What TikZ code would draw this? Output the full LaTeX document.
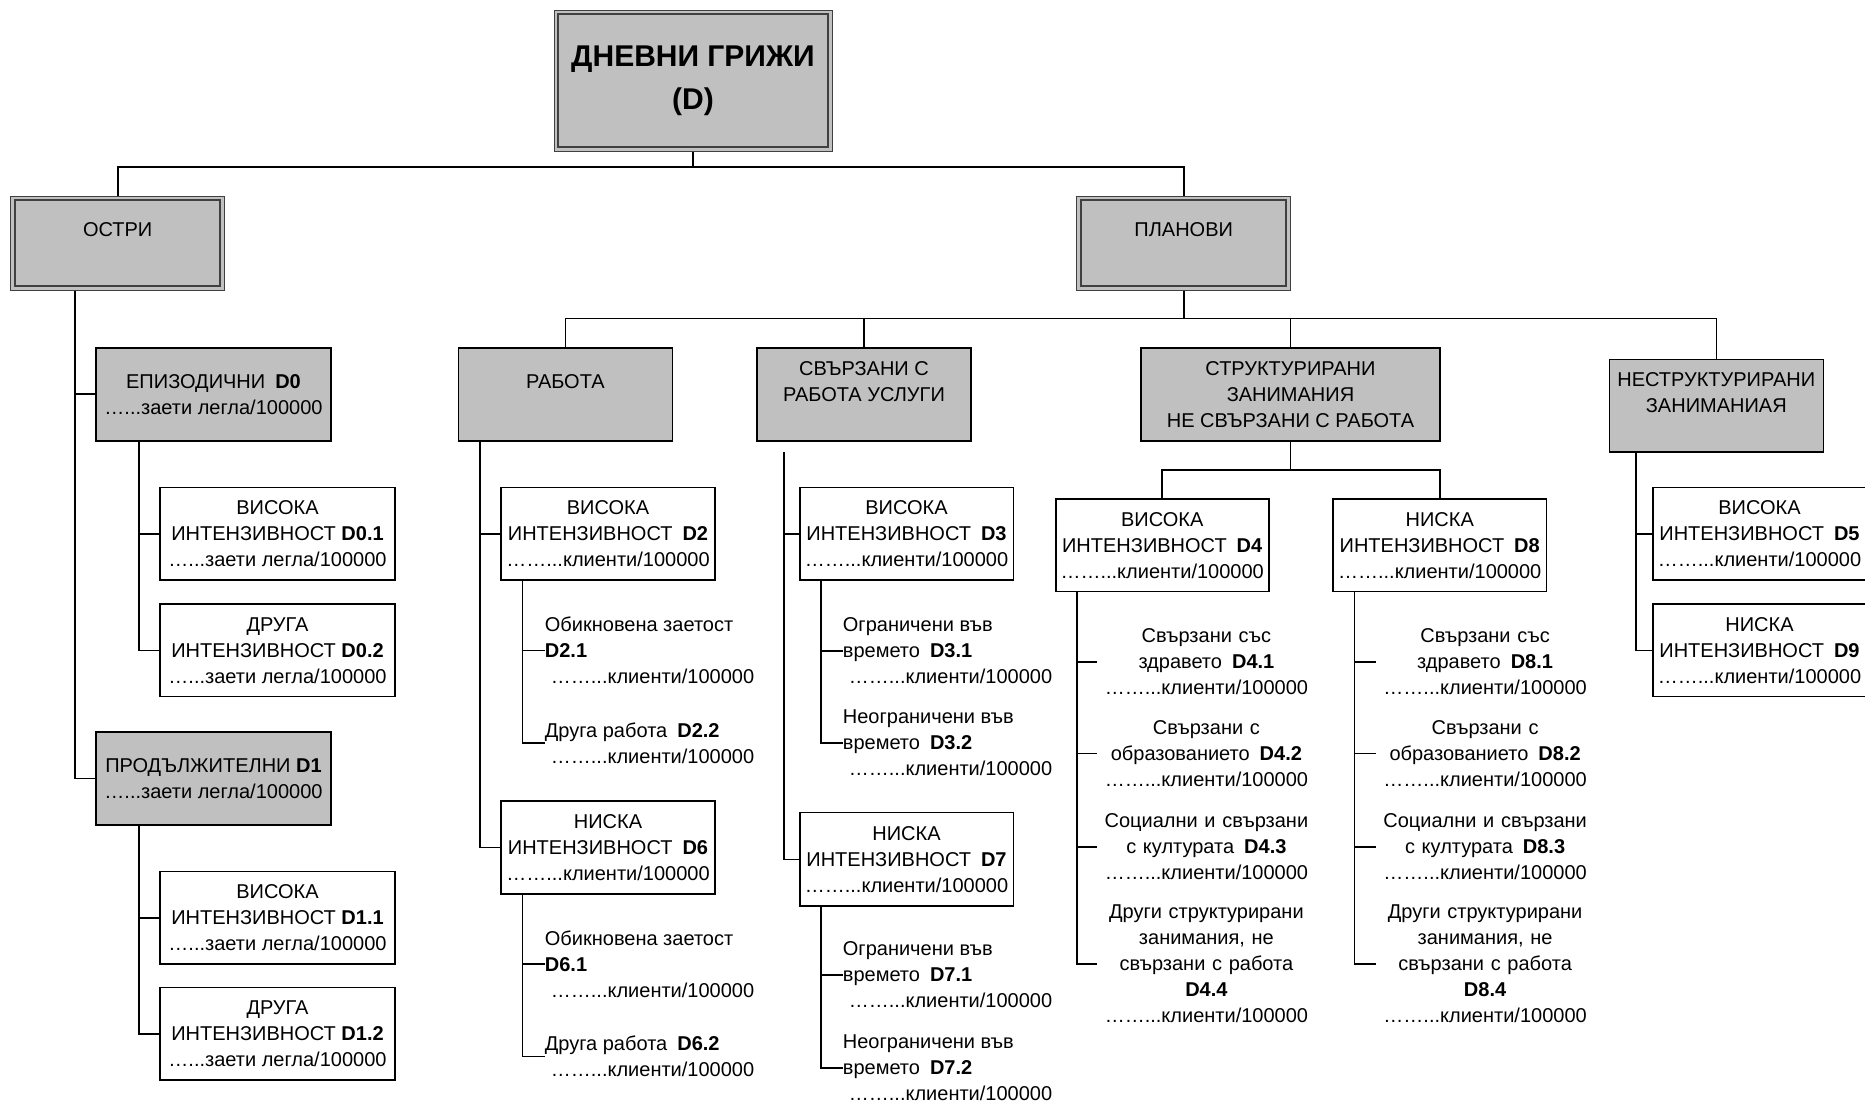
\documentclass[tikz,border=0pt]{standalone}
\usepackage{fontspec}
\setmainfont{Liberation Sans}
\definecolor{boxgray}{RGB}{192,192,192}
\begin{document}
\begin{tikzpicture}[x=0.5pt,y=-0.5pt,
  txt/.style={font=\fontsize{10}{13}\selectfont, inner sep=0pt},
  graybox/.style={txt, draw, fill=boxgray, align=center, line width=0.8pt},
  whitebox/.style={txt, draw, fill=white, align=center, line width=0.8pt},
  dblbox/.style={txt, draw=black!75, line width=0.5pt, fill=boxgray, align=center,
    path picture={\draw[line width=1pt]
      ([shift={(2.2pt,2.2pt)}]path picture bounding box.south west) rectangle
      ([shift={(-2.2pt,-2.2pt)}]path picture bounding box.north east);}},
  sz/.style 2 args={minimum width=#1, minimum height=#2},
  leaf/.style={txt, align=left, anchor=west},
  cleaf/.style={txt, align=center, text width=109pt, anchor=west},
  conn/.style={line width=0.8pt}
]
\useasboundingbox (0,0) rectangle (1865,1104);
\clip (0,0) rectangle (1865,1104);

% top level
\node[dblbox, sz={139pt}{70.5pt}, font=\bfseries\fontsize{15}{21.5}\selectfont] (root) at (693,80.5) {ДНЕВНИ ГРИЖИ\\(D)};
\node[dblbox, sz={107pt}{47pt}] (ostri) at (117.7,243) {ОСТРИ\\\mbox{}};
\node[dblbox, sz={107pt}{47pt}] (planovi) at (1183.7,243) {ПЛАНОВИ\\\mbox{}};

% acute branch
\node[graybox, sz={117.5pt}{46.5pt}] (epizod) at (213.5,394.2) {ЕПИЗОДИЧНИ\enspace\textbf{D0}\\…...заети легла/100000};
\node[whitebox, sz={117.5pt}{46.35pt}] (d01) at (277.5,533.7) {ВИСОКА\\ИНТЕНЗИВНОСТ \textbf{D0.1}\\…...заети легла/100000};
\node[whitebox, sz={117.5pt}{46.35pt}] (d02) at (277.5,650.3) {ДРУГА\\ИНТЕНЗИВНОСТ \textbf{D0.2}\\…...заети легла/100000};
\node[graybox, sz={117.5pt}{46.5pt}] (prod) at (213.5,778.3) {ПРОДЪЛЖИТЕЛНИ \textbf{D1}\\…...заети легла/100000};
\node[whitebox, sz={117.5pt}{46.35pt}] (d11) at (277.5,917.8) {ВИСОКА\\ИНТЕНЗИВНОСТ \textbf{D1.1}\\…...заети легла/100000};
\node[whitebox, sz={117.5pt}{46.35pt}] (d12) at (277.5,1033.7) {ДРУГА\\ИНТЕНЗИВНОСТ \textbf{D1.2}\\…...заети легла/100000};

% planned branch: second level
\node[graybox, sz={107pt}{46.5pt}] (rabota) at (565.35,394.2) {РАБОТА\\\mbox{}};
\node[graybox, sz={107.2pt}{46.5pt}] (svarz) at (864,394.2) {СВЪРЗАНИ С\\РАБОТА УСЛУГИ\\\mbox{}};
\node[graybox, sz={149.5pt}{46.5pt}] (strukt) at (1290.5,394.2) {СТРУКТУРИРАНИ\\ЗАНИМАНИЯ\\НЕ СВЪРЗАНИ С РАБОТА};
\node[graybox, sz={107pt}{46.2pt}] (nestr) at (1716.3,405.5) {НЕСТРУКТУРИРАНИ\\ЗАНИМАНИАЯ\\\mbox{}};

% work
\node[whitebox, sz={106.8pt}{46.35pt}] (d2) at (608,533.7) {ВИСОКА\\ИНТЕНЗИВНОСТ\enspace\textbf{D2}\\……...клиенти/100000};
\node[leaf] (d21) at (544.5,650.3) {Обикновена заетост\\\textbf{D2.1}\\\hspace{3pt}……...клиенти/100000};
\node[leaf] (d22) at (544.5,743) {Друга работа\enspace\textbf{D2.2}\\\hspace{3pt}……...клиенти/100000};
\node[whitebox, sz={106.8pt}{46.5pt}] (d6) at (608,847.5) {НИСКА\\ИНТЕНЗИВНОСТ\enspace\textbf{D6}\\……...клиенти/100000};
\node[leaf] (d61) at (544.5,964) {Обикновена заетост\\\textbf{D6.1}\\\hspace{3pt}……...клиенти/100000};
\node[leaf] (d62) at (544.5,1056.3) {Друга работа\enspace\textbf{D6.2}\\\hspace{3pt}……...клиенти/100000};

% work-related services
\node[whitebox, sz={106.8pt}{46.35pt}] (d3) at (906.5,533.7) {ВИСОКА\\ИНТЕНЗИВНОСТ\enspace\textbf{D3}\\……...клиенти/100000};
\node[leaf] (d31) at (842.5,651) {Ограничени във\\времето\enspace\textbf{D3.1}\\\hspace{3pt}……...клиенти/100000};
\node[leaf] (d32) at (842.5,742.7) {Неограничени във\\времето\enspace\textbf{D3.2}\\\hspace{3pt}……...клиенти/100000};
\node[whitebox, sz={106.8pt}{46.65pt}] (d7) at (906.5,859.3) {НИСКА\\ИНТЕНЗИВНОСТ\enspace\textbf{D7}\\……...клиенти/100000};
\node[leaf] (d71) at (842.5,975) {Ограничени във\\времето\enspace\textbf{D7.1}\\\hspace{3pt}……...клиенти/100000};
\node[leaf] (d72) at (842.5,1067.7) {Неограничени във\\времето\enspace\textbf{D7.2}\\\hspace{3pt}……...клиенти/100000};

% structured
\node[whitebox, sz={106.5pt}{46.35pt}] (d4) at (1162.2,545.3) {ВИСОКА\\ИНТЕНЗИВНОСТ\enspace\textbf{D4}\\……...клиенти/100000};
\node[whitebox, sz={106.8pt}{46.35pt}] (d8) at (1439.7,545.3) {НИСКА\\ИНТЕНЗИВНОСТ\enspace\textbf{D8}\\……...клиенти/100000};
\node[cleaf] (d41) at (1097,661.7) {Свързани със\\здравето\enspace\textbf{D4.1}\\……...клиенти/100000};
\node[cleaf] (d42) at (1097,753.3) {Свързани с\\образованието\enspace\textbf{D4.2}\\……...клиенти/100000};
\node[cleaf] (d43) at (1097,846.7) {Социални и свързани\\с културата\enspace\textbf{D4.3}\\……...клиенти/100000};
\node[cleaf] (d44) at (1097,964) {Други структурирани\\занимания, не\\свързани с работа\\\textbf{D4.4}\\……...клиенти/100000};
\node[cleaf] (d81) at (1375.7,661.7) {Свързани със\\здравето\enspace\textbf{D8.1}\\……...клиенти/100000};
\node[cleaf] (d82) at (1375.7,753.3) {Свързани с\\образованието\enspace\textbf{D8.2}\\……...клиенти/100000};
\node[cleaf] (d83) at (1375.7,846.7) {Социални и свързани\\с културата\enspace\textbf{D8.3}\\……...клиенти/100000};
\node[cleaf] (d84) at (1375.7,964) {Други структурирани\\занимания, не\\свързани с работа\\\textbf{D8.4}\\……...клиенти/100000};

% unstructured
\node[whitebox, sz={106.8pt}{46.35pt}] (d5) at (1759.5,533.7) {ВИСОКА\\ИНТЕНЗИВНОСТ\enspace\textbf{D5}\\……...клиенти/100000};
\node[whitebox, sz={106.8pt}{46.35pt}] (d9) at (1759.5,650.3) {НИСКА\\ИНТЕНЗИВНОСТ\enspace\textbf{D9}\\……...клиенти/100000};

% connectors
\coordinate (b1) at (693,167);
\draw[conn] (root.south) -- (b1) -| (ostri.north);
\draw[conn] (b1) -| (planovi.north);
\coordinate (b2) at (1183.7,318.5);
\draw[conn] (planovi.south) -- (b2) -| (rabota.north);
\draw[conn] (b2) -| (svarz.north);
\draw[conn] (b2) -| (strukt.north);
\draw[conn] (b2) -| (nestr.north);
\coordinate (b3) at (1290.5,470);
\draw[conn] (strukt.south) -- (b3) -| (d4.north);
\draw[conn] (b3) -| (d8.north);

\draw[conn] (75,0 |- ostri.south) |- (epizod.west);
\draw[conn] (75,0 |- ostri.south) |- (prod.west);
\draw[conn] (139,0 |- epizod.south) |- (d01.west);
\draw[conn] (139,0 |- epizod.south) |- (d02.west);
\draw[conn] (139,0 |- prod.south) |- (d11.west);
\draw[conn] (139,0 |- prod.south) |- (d12.west);

\draw[conn] (479.8,0 |- rabota.south) |- (d2.west);
\draw[conn] (479.8,0 |- rabota.south) |- (d6.west);
\draw[conn] (522.3,0 |- d2.south) |- (d21.west);
\draw[conn] (522.3,0 |- d2.south) |- (d22.west);
\draw[conn] (522.3,0 |- d6.south) |- (d61.west);
\draw[conn] (522.3,0 |- d6.south) |- (d62.west);

\coordinate (sv) at (783.7,452);
\draw[conn] (sv) |- (d3.west);
\draw[conn] (sv) |- (d7.west);
\draw[conn] (820.8,0 |- d3.south) |- (d31.west);
\draw[conn] (820.8,0 |- d3.south) |- (d32.west);
\draw[conn] (820.8,0 |- d7.south) |- (d71.west);
\draw[conn] (820.8,0 |- d7.south) |- (d72.west);

\draw[conn] (1076.8,0 |- d4.south) |- (d41.west);
\draw[conn] (1076.8,0 |- d4.south) |- (d42.west);
\draw[conn] (1076.8,0 |- d4.south) |- (d43.west);
\draw[conn] (1076.8,0 |- d4.south) |- (d44.west);
\draw[conn] (1354.3,0 |- d8.south) |- (d81.west);
\draw[conn] (1354.3,0 |- d8.south) |- (d82.west);
\draw[conn] (1354.3,0 |- d8.south) |- (d83.west);
\draw[conn] (1354.3,0 |- d8.south) |- (d84.west);

\draw[conn] (1636,0 |- nestr.south) |- (d5.west);
\draw[conn] (1636,0 |- nestr.south) |- (d9.west);
\end{tikzpicture}
\end{document}
